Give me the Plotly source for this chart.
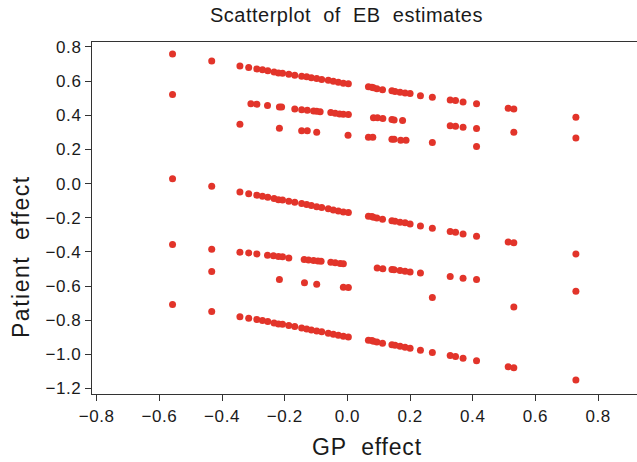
import plotly.graph_objects as go

# Column (GP effect) values shared by the dense bands
gp_band1 = [-0.558, -0.433, -0.343, -0.315, -0.289, -0.271, -0.254, -0.234, -0.220, -0.207,
            -0.187, -0.168, -0.146, -0.130, -0.115, -0.098, -0.082, -0.061, -0.045, -0.029,
            -0.013, 0.003, 0.067, 0.078, 0.083, 0.094, 0.112, 0.142, 0.152, 0.168, 0.184,
            0.200, 0.233, 0.271, 0.328, 0.345, 0.369, 0.412, 0.513, 0.531, 0.729]
pe_band1 = [0.759, 0.718, 0.689, 0.679, 0.671, 0.666, 0.660, 0.654, 0.648, 0.646,
            0.640, 0.634, 0.628, 0.625, 0.619, 0.615, 0.609, 0.605, 0.599, 0.593,
            0.588, 0.584, 0.567, 0.564, 0.561, 0.556, 0.550, 0.543, 0.539, 0.535, 0.531,
            0.527, 0.515, 0.506, 0.490, 0.486, 0.478, 0.468, 0.441, 0.437, 0.388]

gp_band2 = [-0.558, -0.308, -0.289, -0.255, -0.217, -0.210, -0.168, -0.146, -0.128, -0.108,
            -0.098, -0.087, -0.053, -0.039, -0.025, -0.013, 0.003, 0.083, 0.096, 0.113,
            0.142, 0.149, 0.176, 0.328, 0.345, 0.369, 0.412]
pe_band2 = [0.521, 0.468, 0.465, 0.457, 0.449, 0.448, 0.437, 0.433, 0.429, 0.425,
            0.423, 0.421, 0.416, 0.412, 0.408, 0.406, 0.404, 0.386, 0.385, 0.381,
            0.375, 0.373, 0.369, 0.338, 0.336, 0.330, 0.322]

gp_band3 = [-0.343, -0.217, -0.146, -0.128, -0.098, 0.002, 0.067, 0.081, 0.142, 0.149,
            0.170, 0.187, 0.271, 0.412, 0.531, 0.729]
pe_band3 = [0.347, 0.324, 0.309, 0.309, 0.301, 0.283, 0.271, 0.271, 0.260, 0.260,
            0.254, 0.254, 0.240, 0.217, 0.300, 0.267]

gp_band4 = [-0.558, -0.433, -0.343, -0.315, -0.289, -0.271, -0.254, -0.234, -0.220, -0.207,
            -0.187, -0.168, -0.146, -0.130, -0.115, -0.098, -0.082, -0.061, -0.045, -0.029,
            -0.013, 0.003, 0.067, 0.078, 0.083, 0.094, 0.112, 0.142, 0.152, 0.168, 0.184,
            0.200, 0.233, 0.271, 0.328, 0.345, 0.369, 0.412, 0.513, 0.531, 0.729]
pe_band4 = [0.029, -0.016, -0.049, -0.059, -0.068, -0.074, -0.080, -0.088, -0.094, -0.096,
            -0.103, -0.109, -0.117, -0.123, -0.129, -0.135, -0.140, -0.148, -0.154, -0.160,
            -0.166, -0.170, -0.191, -0.193, -0.197, -0.201, -0.209, -0.217, -0.220, -0.226, -0.230,
            -0.236, -0.248, -0.261, -0.281, -0.285, -0.295, -0.308, -0.342, -0.347, -0.412]

gp_band5 = [-0.558, -0.433, -0.343, -0.315, -0.289, -0.255, -0.236, -0.220, -0.207, -0.187,
            -0.138, -0.124, -0.108, -0.094, -0.084, -0.053, -0.039, -0.023, -0.013, 0.095,
            0.113, 0.142, 0.149, 0.168, 0.184, 0.200, 0.233, 0.328, 0.369, 0.412, 0.729]
pe_band5 = [-0.357, -0.384, -0.402, -0.406, -0.412, -0.420, -0.423, -0.427, -0.429, -0.435,
            -0.445, -0.447, -0.451, -0.453, -0.455, -0.460, -0.464, -0.468, -0.470, -0.494,
            -0.498, -0.503, -0.505, -0.509, -0.513, -0.517, -0.523, -0.544, -0.554, -0.562, -0.630]

gp_band6 = [-0.433, -0.217, -0.137, -0.098, -0.013, 0.003, 0.271, 0.531]
pe_band6 = [-0.515, -0.562, -0.580, -0.589, -0.607, -0.609, -0.667, -0.722]

gp_band7 = [-0.558, -0.433, -0.343, -0.315, -0.289, -0.271, -0.254, -0.234, -0.220, -0.207,
            -0.187, -0.168, -0.146, -0.130, -0.115, -0.098, -0.082, -0.061, -0.045, -0.029,
            -0.013, 0.003, 0.067, 0.078, 0.083, 0.094, 0.112, 0.142, 0.152, 0.168, 0.184,
            0.200, 0.233, 0.271, 0.328, 0.345, 0.369, 0.412, 0.513, 0.531, 0.729]
pe_band7 = [-0.708, -0.749, -0.779, -0.788, -0.796, -0.802, -0.808, -0.816, -0.822, -0.824,
            -0.831, -0.837, -0.845, -0.851, -0.857, -0.863, -0.868, -0.876, -0.882, -0.888,
            -0.894, -0.898, -0.917, -0.919, -0.923, -0.927, -0.935, -0.943, -0.947, -0.952, -0.958,
            -0.964, -0.976, -0.989, -1.007, -1.013, -1.023, -1.038, -1.073, -1.079, -1.150]

gp_effect = gp_band1 + gp_band2 + gp_band3 + gp_band4 + gp_band5 + gp_band6 + gp_band7
patient_effect = pe_band1 + pe_band2 + pe_band3 + pe_band4 + pe_band5 + pe_band6 + pe_band7

x_ticks = [-0.8, -0.6, -0.4, -0.2, 0.0, 0.2, 0.4, 0.6, 0.8]
y_ticks = [0.8, 0.6, 0.4, 0.2, 0.0, -0.2, -0.4, -0.6, -0.8, -1.0, -1.2]

title_text = "Scatterplot of EB estimates"
x_title = "GP effect"
y_title = "Patient effect"

FONT = "Liberation Sans, Arial, Helvetica, sans-serif"
RED = "#E2342A"
INK = "#1a1a1a"


def spaced(s, ls):
    s = s.replace(" ", "\u00a0\u00a0")
    return f'<span style="letter-spacing:{ls}px">{s}</span>'


def tick_label(v):
    s = f"{v:.1f}".replace("-", "\u2212")
    if s == "\u22120.0":
        s = "0.0"
    return spaced(s, 0.6)


fig = go.Figure()
fig.add_trace(go.Scatter(
    x=gp_effect, y=patient_effect, mode="markers",
    marker=dict(size=7, color=RED, line=dict(width=0)),
    hoverinfo="x+y", showlegend=False,
))

fig.update_layout(
    width=637, height=462,
    margin=dict(l=92, r=0, t=42, b=68, autoexpand=False),
    paper_bgcolor="white", plot_bgcolor="white",
    font=dict(family=FONT, color=INK, size=17),
    showlegend=False,
)
fig.update_xaxes(
    range=[-0.815, 0.924], tickvals=x_ticks, ticktext=[tick_label(v) for v in x_ticks],
    showgrid=False, zeroline=False,
    showline=True, linecolor="#333333", linewidth=1.3, mirror=True,
    ticks="outside", ticklen=6, tickwidth=1.2, tickcolor="#333333",
    tickfont=dict(size=17, color=INK),
)
fig.update_yaxes(
    range=[-1.232, 0.829], tickvals=y_ticks, ticktext=[tick_label(v) for v in y_ticks],
    showgrid=False, zeroline=False,
    showline=True, linecolor="#333333", linewidth=1.3, mirror=False,
    ticks="outside", ticklen=6, tickwidth=1.2, tickcolor="#333333",
    tickfont=dict(size=17, color=INK),
)

fig.add_annotation(text=spaced(title_text, 0.5), xref="paper", yref="paper",
                   x=(346 - 92) / 545, y=1 + 27 / 352, showarrow=False,
                   xanchor="center", yanchor="middle",
                   font=dict(size=20, color=INK, family=FONT))
fig.add_annotation(text=spaced(x_title, 0.8), xref="paper", yref="paper",
                   x=(367 - 92) / 545, y=-(447 - 394) / 352, showarrow=False,
                   xanchor="center", yanchor="middle",
                   font=dict(size=23, color=INK, family=FONT))
fig.add_annotation(text=spaced(y_title, 1.5), xref="paper", yref="paper",
                   x=(21 - 92) / 545, y=(394 - 257) / 352, showarrow=False,
                   xanchor="center", yanchor="middle", textangle=-90,
                   font=dict(size=23, color=INK, family=FONT))

fig.write_html("out.html")
